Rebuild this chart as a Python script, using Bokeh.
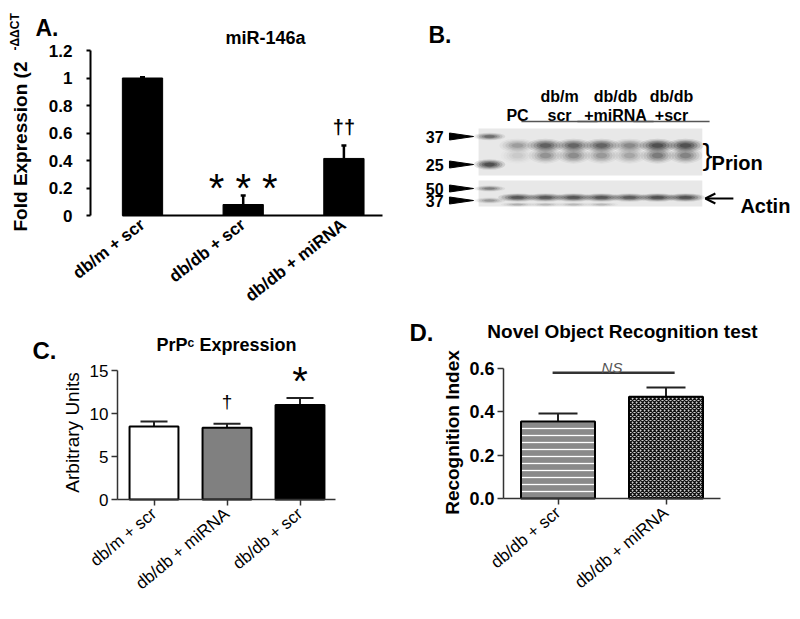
import math
from bokeh.plotting import figure
from bokeh.models import (Range1d, FixedTicker, Whisker, TeeHead, Label,
                          ColumnDataSource, Arrow, OpenHead)
from bokeh.layouts import row, column
from bokeh.embed import file_html
from bokeh.resources import INLINE
from bokeh.core.properties import value

FONT = "Liberation Sans"

# ---------------- Panel A data: miR-146a ----------------
a_groups = ["db/m + scr", "db/db + scr", "db/db + miRNA"]
a_mean = [1.0, 0.08, 0.415]
a_err = [0.005, 0.065, 0.095]
a_sig = ["", "* * *", "\u2020\u2020"]
a_yticks = [0, 0.2, 0.4, 0.6, 0.8, 1.0, 1.2]
a_ytick_labels = ["0", "0.2", "0.4", "0.6", "0.8", "1", "1.2"]

# ---------------- Panel B data: western blot ----------------
b_prion = [0.0, 0.35, 0.80, 0.76, 0.78, 0.48, 0.97, 0.97]
b_prion_low = [0.0, 0.12, 0.42, 0.45, 0.38, 0.30, 0.58, 0.52]
b_actin = [0.0, 0.90, 0.88, 0.92, 0.92, 0.85, 0.97, 0.95]
b_actin_low = [0.0, 0.25, 0.2, 0.2, 0.2, 0.0, 0.0, 0.0]
b_ladder_mw = ["37", "25", "50", "37"]
b_ladder_int = [0.7, 1.0, 0.55, 0.38]
b_headers_top = ["", "db/m", "db/db", "db/db"]
b_headers_bottom = ["PC", "scr", "+miRNA", "+scr"]
b_header_lanes = [[1], [2, 3], [4, 5], [6, 7]]
b_targets = ["Prion", "Actin"]

# ---------------- Panel C data: PrPc expression ----------------
c_groups = ["db/m + scr", "db/db + miRNA", "db/db + scr"]
c_mean = [8.5, 8.35, 11.0]
c_err = [0.58, 0.47, 0.81]
c_colors = ["white", "#808080", "black"]
c_sig = ["", "\u2020", "*"]
c_yticks = [0, 5, 10, 15]

# ---------------- Panel D data: novel object recognition ----------------
d_groups = ["db/db + scr", "db/db + miRNA"]
d_mean = [0.355, 0.47]
d_err = [0.037, 0.042]
d_yticks = [0.0, 0.2, 0.4, 0.6]
d_ytick_labels = ["0.0", "0.2", "0.4", "0.6"]
d_ns = "NS"


def panel(width, height, left_px, top_px, x0_px, xu, y0_px, yu):
    """A figure whose frame fills it; data x = (px - x0_px)/xu, data y = (y0_px - py)/yu."""
    xr = Range1d((left_px - x0_px) / xu, (left_px + width - x0_px) / xu)
    yr = Range1d((y0_px - (top_px + height)) / yu, (y0_px - top_px) / yu)
    p = figure(width=width, height=height, x_range=xr, y_range=yr, title=None,
               min_border_left=0, min_border_right=0, min_border_top=0, min_border_bottom=0,
               output_backend="svg", toolbar_location=None)
    p.grid.visible = False
    p.outline_line_color = None
    p.background_fill_color = "white"
    p.border_fill_color = "white"

    def fx(px):
        return (px - x0_px) / xu

    def fy(py):
        return (y0_px - py) / yu
    return p, fx, fy


def style_axes(p, color, width, tick_out):
    for ax in (p.xaxis, p.yaxis):
        ax.axis_line_color = color
        ax.axis_line_width = width
        ax.major_tick_line_color = color
        ax.major_tick_line_width = width
        ax.major_tick_in = 0
        ax.major_tick_out = tick_out
        ax.minor_tick_line_color = None
        ax.major_label_text_font = FONT
        ax.major_label_text_color = "black"


def label(p, x, y, text, size, style="normal", align="left", baseline="alphabetic",
          angle=0.0, color="black", y_offset=0):
    p.add_layout(Label(x=x, y=y, text=text, text_font=FONT, text_font_size=size,
                       text_font_style=style, text_align=align, text_baseline=baseline,
                       angle=angle, text_color=color, y_offset=y_offset))


# ================= Panel A =================
a_x = [i + 1 for i in range(len(a_groups))]
a_w = 0.4
pa, ax_, ay_ = panel(392, 316, 0, 0, 41.3, 100.7, 215, 137.5)
a_src = ColumnDataSource(dict(x=a_x, top=a_mean, upper=[m + e for m, e in zip(a_mean, a_err)]))
pa.vbar(x="x", top="top", bottom=0, width=a_w, source=a_src, fill_color="black",
        line_color="black")
pa.add_layout(Whisker(source=a_src, base="x", upper="upper", lower="top", line_width=2.5,
                      line_color="black", upper_head=TeeHead(size=5, line_width=2.5),
                      lower_head=None))
style_axes(pa, "black", 2, 4)
pa.yaxis.fixed_location = ax_(90)
pa.yaxis.bounds = (a_yticks[0], a_yticks[-1])
pa.yaxis.ticker = FixedTicker(ticks=a_yticks)
pa.yaxis.major_label_overrides = dict(zip(a_yticks, a_ytick_labels))
pa.yaxis.major_label_standoff = 14
pa.yaxis.major_label_text_font_size = "17px"
pa.yaxis.major_label_text_font_style = "bold"
pa.xaxis.fixed_location = 0
pa.xaxis.bounds = (a_x[0] - a_w / 2, ax_(382))
pa.xaxis.ticker = FixedTicker(ticks=a_x)
pa.xaxis.major_label_overrides = dict(zip(a_x, a_groups))
pa.xaxis.major_label_orientation = math.radians(38)
pa.xaxis.major_label_text_font_size = "17px"
pa.xaxis.major_label_text_font_style = "bold"
pa.xaxis.major_tick_out = 0
pa.xaxis.major_label_standoff = 7
label(pa, ax_(20), ay_(231), "Fold Expression (2", "19px", "bold", "left", "middle",
      math.pi / 2)
label(pa, ax_(14), ay_(50), "-\u0394\u0394CT", "12px", "bold", "left", "middle", math.pi / 2)
label(pa, ax_(35), ay_(27), "A.", "23px", "bold")
label(pa, ax_(265), ay_(37), "miR-146a", "18px", "bold", "center")
label(pa, a_x[1], a_mean[1] + a_err[1], a_sig[1], "40px", y_offset=8, align="center")
label(pa, a_x[2], a_mean[2] + a_err[2], a_sig[2], "20px", "bold", "center", y_offset=18)

# ================= Panel B (blot) =================
# x in lane units (lane i at 28 px pitch), y in picture rows
pb = figure(width=408, height=312, x_range=Range1d((392 - 489) / 28, (800 - 489) / 28),
            y_range=Range1d(312, 0), x_axis_location=None, y_axis_location=None, title=None,
            min_border_left=0, min_border_right=0, min_border_top=0, min_border_bottom=0,
            output_backend="svg", toolbar_location=None)
pb.grid.visible = False
pb.outline_line_color = None
PRION_Y, PRION_LOW_Y, ACTIN_Y, ACTIN_LOW_Y = 145, 155, 197, 204
LADDER_Y = [136, 164, 188, 200]
lanes = list(range(len(b_prion)))
samples = lanes[1:]
pb.quad(left=-0.39, right=7.6, top=[128, 180], bottom=[175, 206], fill_color="#e8e8e8",
        line_color=None)


def band(xs, ys, ints, w, h):
    for s, a in [(1.5, 0.12), (1.25, 0.18), (1.0, 0.25), (0.75, 0.32), (0.5, 0.4)]:
        hh = [v * s for v in h] if isinstance(h, list) else h * s
        pb.ellipse(x=xs, y=ys, width=w * s, height=hh, fill_color="#252525",
                   fill_alpha=[v * a for v in ints], line_color=None)


band(samples, PRION_LOW_Y, b_prion_low[1:], 0.8, 11)
band(samples, PRION_Y, b_prion[1:], 0.86, 9)
band(samples, ACTIN_Y, b_actin[1:], 0.92, 5.5)
band(samples, ACTIN_LOW_Y, b_actin_low[1:], 0.8, 3)
band([0] * len(LADDER_Y), LADDER_Y, b_ladder_int, 0.75, [5, 7, 4, 4])

centers = [sum(g) / len(g) for g in b_header_lanes]
txt = dict(text_font=value(FONT), text_font_size="16px", text_font_style="bold",
           text_align="center", text_baseline="alphabetic", text_color="black")
pb.text(x=centers, y=96, text=b_headers_top, **txt)
pb.text(x=centers, y=115, text=b_headers_bottom, **txt)
groups = [g for g in b_header_lanes if len(g) > 1]
pb.segment(x0=[min(g) - 0.86 for g in groups], x1=[max(g) + 0.86 for g in groups],
           y0=121, y1=121, line_color="#555555", line_width=1.5)
pb.text(x=-1.64, y=LADDER_Y, text=b_ladder_mw, text_font=value(FONT), text_font_size="16px",
        text_font_style="bold", text_align="right", text_baseline="middle")
pb.patches(xs=[[-1.43, -1.43, -0.57] for _ in LADDER_Y],
           ys=[[y - 3.5, y + 3.5, y] for y in LADDER_Y], fill_color="black", line_color="black")
pb.text(x=7.79, y=154, text=["}"], text_font=value(FONT), text_font_size="30px",
        text_align="center", text_baseline="middle")
pb.text(x=[7.93, 8.96], y=[162, 205], text=b_targets, text_font=value(FONT),
        text_font_size="20px", text_font_style="bold", text_align="left",
        text_baseline="alphabetic")
pb.add_layout(Arrow(end=OpenHead(size=10, line_width=2), x_start=8.71, y_start=198,
                    x_end=7.71, y_end=198, line_width=2))
pb.text(x=-2.18, y=[34], text=["B."], text_font=value(FONT), text_font_size="23px",
        text_font_style="bold", text_baseline="alphabetic")

# ================= Panel C =================
c_x = [i + 1 for i in range(len(c_groups))]
c_w = 0.67
pc, cx_, cy_ = panel(392, 302, 0, 316, 80.5, 73.0, 499, 8.6)
c_src = ColumnDataSource(dict(x=c_x, top=c_mean, color=c_colors,
                              upper=[m + e for m, e in zip(c_mean, c_err)]))
pc.add_layout(Whisker(source=c_src, base="x", upper="upper", lower="top", line_width=2,
                      line_color="#222222",
                      upper_head=TeeHead(size=27, line_width=2, line_color="#222222"),
                      lower_head=None, level="underlay"))
pc.vbar(x="x", top="top", bottom=0, width=c_w, source=c_src, fill_color="color",
        line_color="black", line_width=2)
style_axes(pc, "#333333", 1.5, 6)
pc.yaxis.fixed_location = cx_(117)
pc.yaxis.bounds = (c_yticks[0], c_yticks[-1])
pc.yaxis.ticker = FixedTicker(ticks=c_yticks)
pc.yaxis.major_label_standoff = 3
pc.yaxis.major_label_text_font_size = "17px"
pc.xaxis.fixed_location = 0
pc.xaxis.bounds = (cx_(117), cx_(335))
pc.xaxis.ticker = FixedTicker(ticks=c_x)
pc.xaxis.major_label_overrides = dict(zip(c_x, c_groups))
pc.xaxis.major_label_orientation = math.radians(40)
pc.xaxis.major_label_text_font_size = "17px"
pc.xaxis.major_label_standoff = 6
label(pc, cx_(72), cy_(432), "Arbitrary Units", "19px", "normal", "center", "middle",
      math.pi / 2)
label(pc, cx_(32), cy_(350), "C.", "24px", "bold")
label(pc, cx_(226), cy_(344), "PrP\u1d9c Expression", "18px", "bold", "center")
label(pc, c_x[1], c_mean[1] + c_err[1], c_sig[1], "19px", align="center", y_offset=22)
label(pc, c_x[2], c_mean[2] + c_err[2], c_sig[2], "40px", align="center", y_offset=17)

# ================= Panel D =================
d_x = [i + 1 for i in range(len(d_groups))]
d_w = 0.685
pd_, dx_, dy_ = panel(408, 306, 392, 312, 449.5, 108.0, 498, 216.7)
d_src = ColumnDataSource(dict(x=d_x, top=d_mean, upper=[m + e for m, e in zip(d_mean, d_err)],
                              fill=["#8a8a8a", "#cfcfcf"],
                              hatch=["horizontal_line", "diagonal_cross"],
                              hcolor=["white", "#111111"], hscale=[7.0, 4.0]))
pd_.add_layout(Whisker(source=d_src, base="x", upper="upper", lower="top", line_width=2,
                       line_color="#222222",
                       upper_head=TeeHead(size=39, line_width=2, line_color="#222222"),
                       lower_head=None, level="underlay"))
pd_.vbar(x="x", top="top", bottom=0, width=d_w, source=d_src, fill_color="fill",
         hatch_pattern="hatch", hatch_color="hcolor", hatch_scale="hscale", hatch_weight=1.3,
         line_color="black", line_width=2)
style_axes(pd_, "#333333", 1.5, 6)
pd_.yaxis.fixed_location = dx_(503)
pd_.yaxis.bounds = (d_yticks[0], d_yticks[-1])
pd_.yaxis.ticker = FixedTicker(ticks=d_yticks)
pd_.yaxis.major_label_overrides = dict(zip(d_yticks, d_ytick_labels))
pd_.yaxis.major_label_standoff = 3
pd_.yaxis.major_label_text_font_size = "18px"
pd_.yaxis.major_label_text_font_style = "bold"
pd_.xaxis.fixed_location = 0
pd_.xaxis.bounds = (dx_(503), dx_(720))
pd_.xaxis.ticker = FixedTicker(ticks=d_x)
pd_.xaxis.major_label_overrides = dict(zip(d_x, d_groups))
pd_.xaxis.major_label_orientation = math.radians(40)
pd_.xaxis.major_label_text_font_size = "17px"
pd_.xaxis.major_label_standoff = 6
pd_.segment(x0=d_x[0] - 0.05, x1=d_x[1] + 0.08, y0=0.58, y1=0.58, line_color="#333333",
            line_width=2.5)
label(pd_, (d_x[0] + d_x[1]) / 2, dy_(367), d_ns, "15px", "italic", "center",
      color="#555555")
label(pd_, dx_(452), dy_(432), "Recognition Index", "19px", "bold", "center", "middle",
      math.pi / 2)
label(pd_, dx_(409), dy_(332), "D.", "24px", "bold")
label(pd_, dx_(622), dy_(331), "Novel Object Recognition test", "19px", "bold", "center")

layout = row(column(pa, pc), column(pb, pd_))
open("out.html", "w").write(file_html(layout, INLINE))
